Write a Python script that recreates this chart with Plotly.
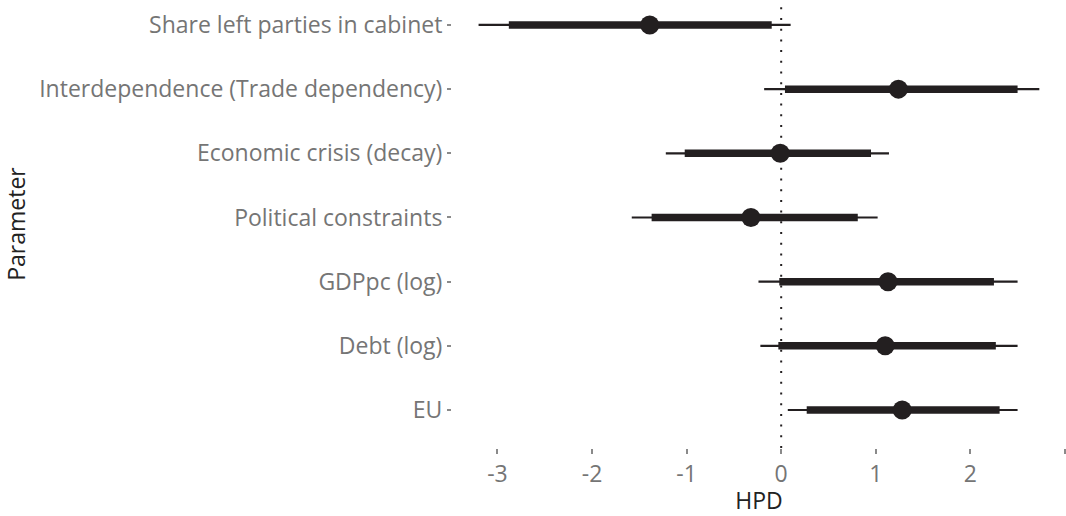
import plotly.graph_objects as go

# Posterior summaries per parameter (top to bottom)
params = [
    "Share left parties in cabinet",
    "Interdependence (Trade dependency)",
    "Economic crisis (decay)",
    "Political constraints",
    "GDPpc (log)",
    "Debt (log)",
    "EU",
]
median = [-1.39, 1.24, -0.01, -0.32, 1.13, 1.10, 1.28]
outer_lo = [-3.20, -0.18, -1.22, -1.58, -0.24, -0.22, 0.07]
inner_lo = [-2.88, 0.04, -1.02, -1.37, -0.02, -0.03, 0.27]
inner_hi = [-0.10, 2.50, 0.95, 0.81, 2.25, 2.27, 2.31]
outer_hi = [0.10, 2.73, 1.14, 1.02, 2.50, 2.50, 2.50]
x_ticks = [-3, -2, -1, 0, 1, 2, 3]

n = len(params)
ypos = [n - i for i in range(n)]  # first parameter at the top

ink = "#231f20"
font_family = "'Open Sans', 'Noto Sans', sans-serif"


def segments(lo, hi):
    xs, ys = [], []
    for a, b, y in zip(lo, hi, ypos):
        xs += [a, b, None]
        ys += [y, y, None]
    return xs, ys


fig = go.Figure()

ox, oy = segments(outer_lo, outer_hi)
fig.add_trace(go.Scatter(x=ox, y=oy, mode="lines",
                         line=dict(color=ink, width=2.2),
                         hoverinfo="skip", showlegend=False))

ix, iy = segments(inner_lo, inner_hi)
fig.add_trace(go.Scatter(x=ix, y=iy, mode="lines",
                         line=dict(color=ink, width=7.5),
                         hoverinfo="skip", showlegend=False))

fig.add_trace(go.Scatter(x=median, y=ypos, mode="markers",
                         marker=dict(color=ink, size=19, line=dict(width=0)),
                         text=params, showlegend=False))

# reference line at zero
fig.add_shape(type="line", xref="x", yref="paper", x0=0, x1=0, y0=0, y1=1,
              line=dict(color=ink, width=2, dash="2px,8.7px"), layer="below")

label_font = dict(family=font_family, size=23, color="#757575", weight=400)
title_font = dict(family=font_family, size=23, color="#222222", weight=400)

fig.update_layout(
    width=1066, height=516,
    margin=dict(l=452, r=0, t=0, b=68),
    paper_bgcolor="white", plot_bgcolor="white",
    font=label_font,
    xaxis=dict(
        range=[-3.481, 3.012], tickvals=x_ticks,
        ticktext=[str(v) for v in x_ticks],
        showgrid=False, zeroline=False, showline=False,
        ticks="outside", ticklen=5, tickwidth=1.5, tickcolor="#8a8a8a",
        tickfont=label_font,
        title=dict(text="HPD", font=title_font, standoff=12),
    ),
    yaxis=dict(
        range=[0.408, 7.389], tickvals=ypos, ticktext=params,
        showgrid=False, zeroline=False, showline=False,
        ticks="outside", ticklen=4, tickwidth=1.5, tickcolor="#8a8a8a",
        tickfont=label_font,
        title=dict(text="Parameter", font=title_font, standoff=10),
    ),
)

fig.write_html("out.html")
